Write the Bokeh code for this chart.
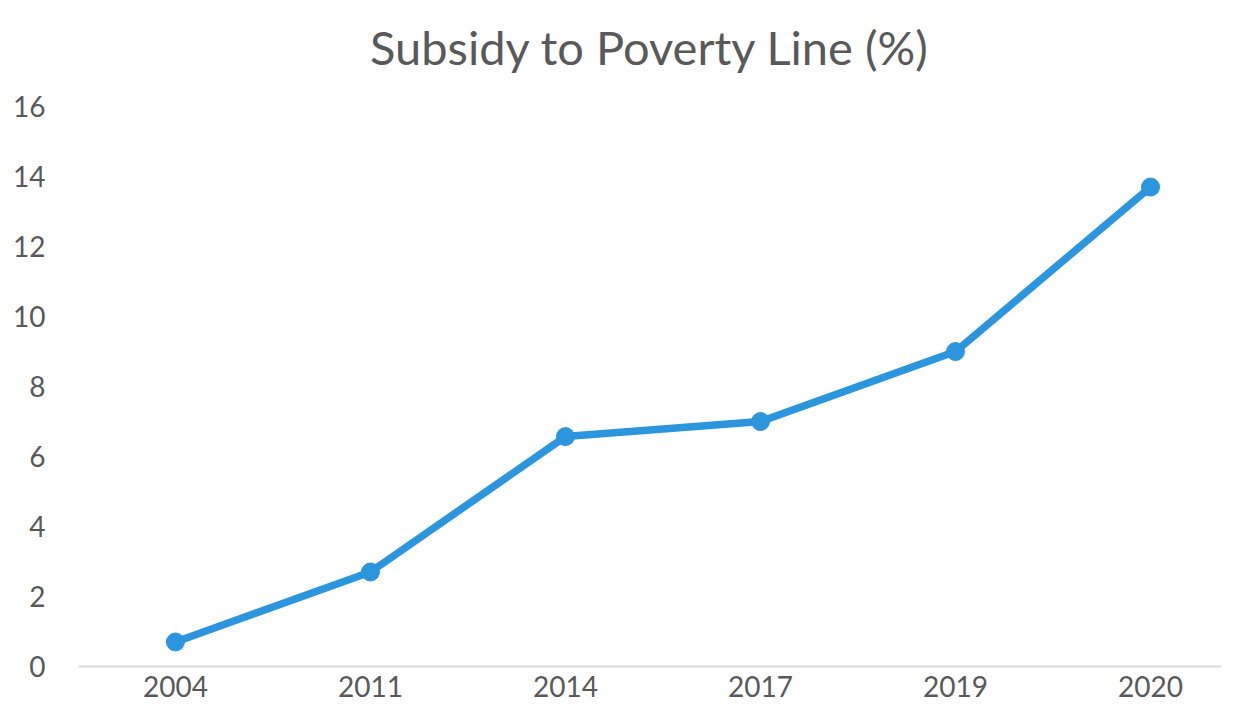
from bokeh.plotting import figure
from bokeh.models import Range1d, FixedTicker
from bokeh.embed import file_html
from bokeh.resources import INLINE

years = ["2004", "2011", "2014", "2017", "2019", "2020"]
subsidy_pct = [0.7, 2.7, 6.57, 7.0, 9.0, 13.7]
y_ticks = [0, 2, 4, 6, 8, 10, 12, 14, 16]

xs = list(range(len(years)))

FONT = "Lato"
GREY = "#595959"
BLUE = "#2b95de"

p = figure(width=1221, height=709, output_backend="svg", toolbar_location=None,
           x_range=Range1d(-0.497, 5.364), y_range=Range1d(0, 16.43),
           min_border_left=78, min_border_right=0, min_border_bottom=43, min_border_top=90)

p.title.text = "Subsidy to Poverty Line (%)"
p.title.align = "center"
p.title.text_font = FONT
p.title.text_font_size = "47px"
p.title.text_font_style = "normal"
p.title.text_color = GREY
p.title.standoff = 33

p.line(xs, subsidy_pct, line_color=BLUE, line_width=7.5)
p.scatter(xs, subsidy_pct, size=18, fill_color=BLUE, line_color=BLUE)

p.xgrid.visible = False
p.ygrid.visible = False
p.outline_line_color = None

p.xaxis.ticker = FixedTicker(ticks=xs)
p.xaxis.major_label_overrides = {i: y for i, y in enumerate(years)}
p.xaxis.axis_line_color = "#d9d9d9"
p.xaxis.axis_line_width = 2
p.xaxis.major_tick_line_color = None
p.xaxis.minor_tick_line_color = None
p.xaxis.major_tick_out = 0
p.xaxis.major_label_standoff = 9
p.xaxis.major_label_text_font = FONT
p.xaxis.major_label_text_font_size = "28px"
p.xaxis.major_label_text_color = GREY

p.yaxis.ticker = FixedTicker(ticks=y_ticks)
p.yaxis.axis_line_color = None
p.yaxis.major_tick_line_color = None
p.yaxis.minor_tick_line_color = None
p.yaxis.major_tick_out = 0
p.yaxis.major_label_standoff = 33
p.yaxis.major_label_text_font = FONT
p.yaxis.major_label_text_font_size = "28px"
p.yaxis.major_label_text_color = GREY

open("out.html", "w").write(file_html(p, INLINE))
